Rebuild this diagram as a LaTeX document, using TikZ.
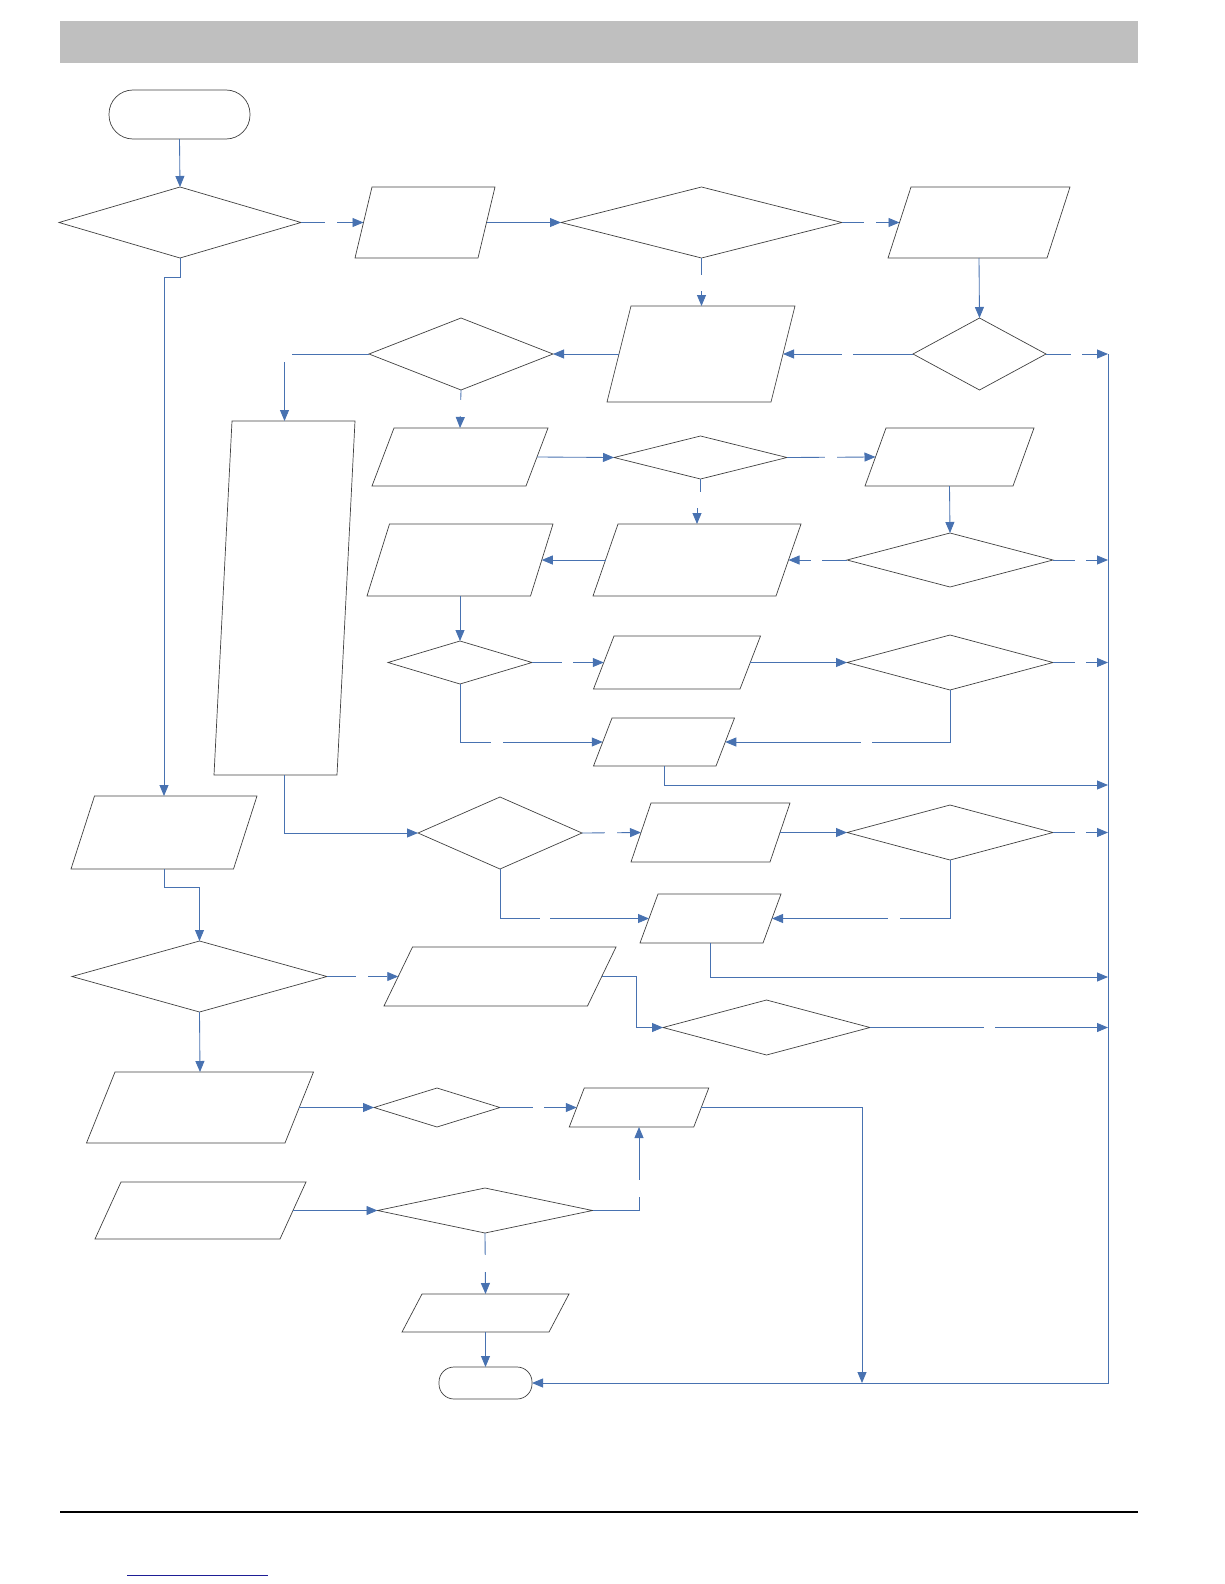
\documentclass[tikz,border=0pt]{standalone}
\usetikzlibrary{shapes.geometric,arrows.meta}
\definecolor{conblue}{RGB}{72,114,177}
\definecolor{shapegray}{RGB}{64,64,64}
\definecolor{bargray}{RGB}{191,191,191}
\definecolor{linknavy}{RGB}{30,30,150}
\tikzset{
  conn/.style={draw=conblue, line width=0.85pt, -{Triangle[length=11pt,width=9pt]}},
  shapeline/.style={draw=shapegray, line width=0.7pt},
  dia/.style={diamond, shapeline, inner sep=0pt, outer sep=0pt},
  anchorbox/.style={rectangle, draw=none, inner sep=0pt, outer sep=0pt},
  term/.style={rectangle, shapeline, inner sep=0pt, outer sep=0pt},
  lblgap/.style={rectangle, fill=white, draw=none, inner sep=0pt, outer sep=0pt}
}
% name, cx, cy, midline width, height, half skew
\newcommand{\mypgram}[6]{%
  \node[anchorbox, minimum width=#4pt, minimum height=#5pt] (#1) at (#2,#3) {};
  \draw[shapeline] ([xshift=#6pt]#1.north west) -- ([xshift=#6pt]#1.north east)
     -- ([xshift=-#6pt]#1.south east) -- ([xshift=-#6pt]#1.south west) -- cycle;}
\newcommand{\mygap}[5]{%
  \node[lblgap, minimum width=#4pt, minimum height=#5pt] (#1) at (#2,#3) {};}
\begin{document}
\begin{tikzpicture}[x=1pt,y=-1pt]
\useasboundingbox (0,0) rectangle (1224,1584);
% header bar
\fill[bargray] (60,21) rectangle (1138,63);

% terminals
\node[term, rounded corners=24pt, minimum width=141pt, minimum height=49pt] (S) at (179.5,114.5) {};
\node[term, rounded corners=15pt, minimum width=93pt, minimum height=32pt] (E) at (485.5,1383) {};

% diamonds
\node[dia, minimum width=242pt, minimum height=71pt] (D1) at (180,222.5) {};
\node[dia, minimum width=281pt, minimum height=71pt] (D2) at (701.5,222.5) {};
\node[dia, minimum width=133pt, minimum height=72pt] (D3) at (979.5,354) {};
\node[dia, minimum width=184pt, minimum height=72pt] (D4) at (461,354) {};
\node[dia, minimum width=173pt, minimum height=43pt] (D5) at (700.5,457.5) {};
\node[dia, minimum width=206pt, minimum height=54pt] (D6) at (950,560) {};
\node[dia, minimum width=164pt, minimum height=72pt] (D7) at (500,833) {};
\node[dia, minimum width=144pt, minimum height=43pt] (D8) at (460,662.5) {};
\node[dia, minimum width=206pt, minimum height=55pt] (D9) at (950,662.5) {};
\node[dia, minimum width=206pt, minimum height=55pt] (D10) at (950,832.5) {};
\node[dia, minimum width=255pt, minimum height=71pt] (D11) at (199.5,976.5) {};
\node[dia, minimum width=207pt, minimum height=55pt] (D12) at (766.5,1027.5) {};
\node[dia, minimum width=126pt, minimum height=39pt] (D13) at (437,1107.5) {};
\node[dia, minimum width=215pt, minimum height=45pt] (D14) at (485,1210.5) {};

% parallelograms
\mypgram{P1}{425}{222.5}{123}{71}{8.5}
\mypgram{P2}{701}{354}{164}{96}{12}
\mypgram{P3}{979}{222.5}{159}{71}{11.5}
\mypgram{P4}{284.5}{598}{123}{354}{9}
\mypgram{P5}{460}{457}{154}{58}{11}
\mypgram{P6}{949.5}{457}{148}{58}{10.5}
\mypgram{P7}{697}{560}{183}{72}{12.5}
\mypgram{P8}{460}{560}{163.5}{72}{11.25}
\mypgram{P9}{677}{662.5}{146.5}{53}{10.25}
\mypgram{P10}{664}{742}{122.5}{48}{9.25}
\mypgram{P11}{710.5}{832.5}{139}{59}{10}
\mypgram{P12}{710.5}{918.5}{123}{49}{9}
\mypgram{P13}{164}{832.5}{162.5}{73}{11.75}
\mypgram{P14}{500}{976.5}{203.5}{59}{14.25}
\mypgram{P15}{200}{1107.5}{198.5}{71}{14.25}
\mypgram{P16}{639}{1107.5}{124.5}{39}{7.5}
\mypgram{P17}{200.5}{1210.5}{185}{57}{13}
\mypgram{P18}{485.5}{1313}{147}{38}{10}

% bus coordinates
\coordinate (b1) at (1108,354);
\coordinate (b3) at (1108,560);
\coordinate (b5) at (1108,662.5);
\coordinate (b6) at (1108,785);
\coordinate (b7) at (1108,832.5);
\coordinate (b8) at (1108,977);
\coordinate (b9) at (1108,1027.5);
\coordinate (bBot) at (1108,1383);
\coordinate (b10) at (862,1383);
\coordinate (j1) at (700.5,500);
\coordinate (j2) at (697,500);

% connectors
\draw[conn] (S.south) -- (D1.north);
\draw[conn] (D1.east) -- (P1.west);
\draw[conn] (P1.east) -- (D2.west);
\draw[conn] (D2.east) -- (P3.west);
\draw[conn] (P3.south) -- (D3.north);
\draw[conn] (D2.south) -- (D2.south |- P2.north);
\draw[conn] (D3.west) -- (P2.east);
\draw[conn] (P2.west) -- (D4.east);
\draw[conn] (D4.west) -| (P4.north);
\draw[conn] (D4.south) -- (P5.north);
\draw[conn] (P5.east) -- (D5.west);
\draw[conn] (D5.east) -- (P6.west);
\draw[conn] (P6.south) -- (D6.north);
\draw[conn] (D6.west) -- (P7.east);
\draw[conn] (D5.south) -- (j1) -- (j2) -- (P7.north);
\draw[conn] (P7.west) -- (P8.east);
\draw[conn] (P8.south) -- (D8.north);
\draw[conn] (D8.east) -- (P9.west);
\draw[conn] (P9.east) -- (D9.west);
\draw[conn] (D9.south) |- (P10.east);
\draw[conn] (D8.south) |- (P10.west);
\draw[conn] (P10.south) |- (b6);
\draw[conn] (P4.south) |- (D7.west);
\draw[conn] (D7.east) -- (P11.west);
\draw[conn] (P11.east) -- (D10.west);
\draw[conn] (D10.south) |- (P12.east);
\draw[conn] (D7.south) |- (P12.west);
\draw[conn] (P12.south) |- (b8);
\draw[conn] (D1.south) -- ++(0,19) -| (P13.north);
\draw[conn] (P13.south) -- ++(0,18) -| (D11.north);
\draw[conn] (D11.east) -- (P14.west);
\draw[conn] (P14.east) -- ++(35,0) |- (D12.west);
\draw[conn] (D11.south) -- (P15.north);
\draw[conn] (P15.east) -- (D13.west);
\draw[conn] (D13.east) -- (P16.west);
\draw[conn] (P17.east) -- (D14.west);
\draw[conn] (D14.east) -| (P16.south);
\draw[conn] (D14.south) -- (P18.north);
\draw[conn] (P18.south) -- (E.north);
\draw[conn] (P16.east) -| (b10);
\draw[conn] (D3.east) -- (b1);
\draw[conn] (D6.east) -- (b3);
\draw[conn] (D9.east) -- (b5);
\draw[conn] (D10.east) -- (b7);
\draw[conn] (D12.east) -- (b9);
\draw[conn] (b1) -- (bBot) -- (E.east);

% label gaps
\mygap{g1}{331}{222.5}{12}{6}
\mygap{g2}{870}{222.5}{12}{6}
\mygap{g3}{701.5}{283}{6}{16}
\mygap{g4}{847.5}{354}{11}{6}
\mygap{g5}{1076.5}{354}{11}{6}
\mygap{g6}{284}{354}{16}{16}
\mygap{g7}{460}{408}{6}{16}
\mygap{g8}{831}{457.5}{12}{6}
\mygap{g9}{700}{500}{14}{16}
\mygap{g10}{816.5}{560}{11}{6}
\mygap{g11}{1080.5}{560}{11}{6}
\mygap{g12}{567.5}{662.5}{11}{6}
\mygap{g13}{1080.5}{662.5}{11}{6}
\mygap{g14}{866.5}{742}{11}{6}
\mygap{g15}{497}{742}{12}{6}
\mygap{g16}{611}{833}{12}{6}
\mygap{g17}{1080.5}{832.5}{11}{6}
\mygap{g18}{894}{918.5}{12}{6}
\mygap{g19}{545}{918.5}{10}{6}
\mygap{g20}{362}{977}{12}{6}
\mygap{g21}{989.5}{1027.5}{11}{6}
\mygap{g22}{538.5}{1107.5}{11}{6}
\mygap{g23}{640}{1188.5}{6}{17}
\mygap{g24}{486}{1263.5}{6}{17}

% footer
\draw[black, line width=2.2pt] (60,1512) -- (1138,1512);
\draw[linknavy, line width=1pt] (127,1575) -- (268,1575);
\end{tikzpicture}
\end{document}
